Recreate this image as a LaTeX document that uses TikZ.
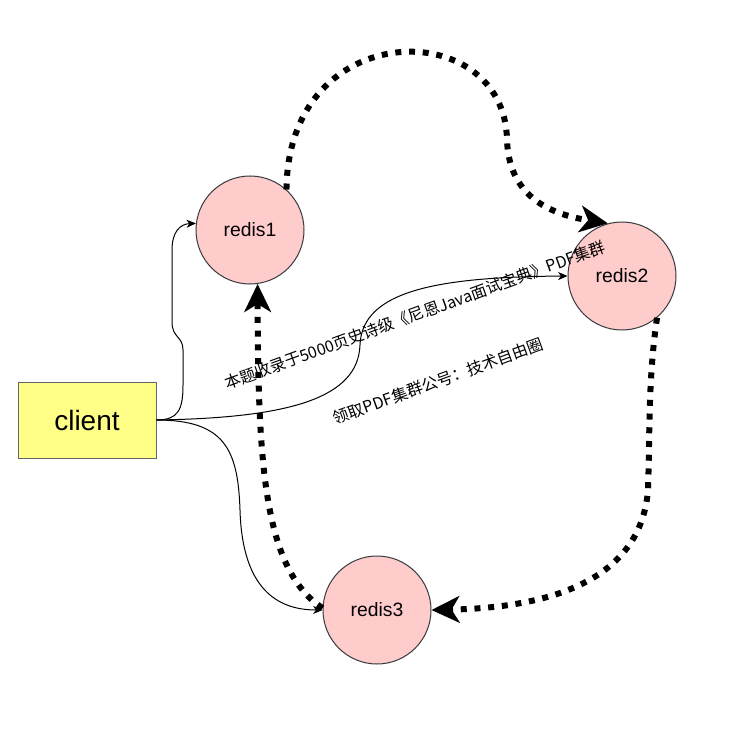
\documentclass[tikz,border=0pt]{standalone}
\usepackage{xcolor}
\usepackage{fontspec}
\setmainfont{Liberation Sans}
\newfontfamily\cjk{Noto Sans CJK SC}
\usepackage{tikz}
\usetikzlibrary{arrows.meta, shapes.geometric}
\definecolor{clientfill}{HTML}{FFFF88}
\definecolor{clientline}{HTML}{666666}
\definecolor{redisfill}{HTML}{FFCCCC}
\definecolor{redisline}{HTML}{36393D}
\tikzset{
  block/.style={rectangle, draw=clientline, fill=clientfill,
    minimum width=103.5pt, minimum height=57pt, inner sep=0pt,
    font=\fontsize{21}{24}\selectfont, line width=0.75pt},
  redisnode/.style={circle, draw=redisline, fill=redisfill,
    minimum size=81pt, inner sep=0pt,
    font=\fontsize{14.5}{17}\selectfont, line width=0.75pt},
  arrow/.style={-{Stealth[length=7pt, width=6pt, inset=2pt]}, line width=0.75pt, color=black},
  dotarrow/.style={-{Stealth[length=21pt, width=20pt, inset=6pt]}, line width=4.5pt,
    dash pattern=on 4.5pt off 5.8pt, color=black},
  note/.style={font=\cjk\fontsize{12}{14}\selectfont, rotate=20, inner sep=0pt}
}

\begin{document}
\begin{tikzpicture}[x=0.75pt, y=-0.75pt]
  \fill[white] (0,0) rectangle (739,731);
  \useasboundingbox (0,0) rectangle (739,731);

  % Nodes
  \node[block] (client) at (87,420) {client};
  \node[redisnode] (r1) at (250,230) {redis1};
  \node[redisnode] (r2) at (622,276) {redis2};
  \node[redisnode] (r3) at (377,610) {redis3};

  % Client connections
  \draw[arrow] (client.east) .. controls (178,420) and (183,410) .. (183,385) -- (183,350)
    .. controls (183,336) and (172,338) .. (172,322) -- (172,250)
    .. controls (172,232) and (180,224) .. (r1.173);
  \draw[arrow] (client.east) .. controls (290,418) and (358,398) .. (360,345)
    .. controls (362,290) and (440,277) .. (r2.west);
  \draw[arrow] (client.east) .. controls (225,420) and (238,450) .. (240,510)
    .. controls (242,580) and (270,610) .. (r3.west);

  % Dotted links between redis nodes
  \draw[dotarrow] (r1.48) .. controls (288,15) and (505,15) .. (507,140)
    .. controls (509,200) and (555,215) .. (r2.105);
  \draw[dotarrow] (r2.-50) .. controls (648,380) and (650,430) .. (648,490)
    .. controls (640,590) and (530,608) .. (r3.east);
  \draw[dotarrow] (r3.178) .. controls (265,570) and (258,470) .. (r1.-82);

  % Notes
  \node[note] (note1) at (415,315) {本题收录于5000页史诗级《尼恩Java面试宝典》PDF集群};
  \node[note] (note2) at (438,381) {领取PDF集群公号：技术自由圈};
\end{tikzpicture}
\end{document}
